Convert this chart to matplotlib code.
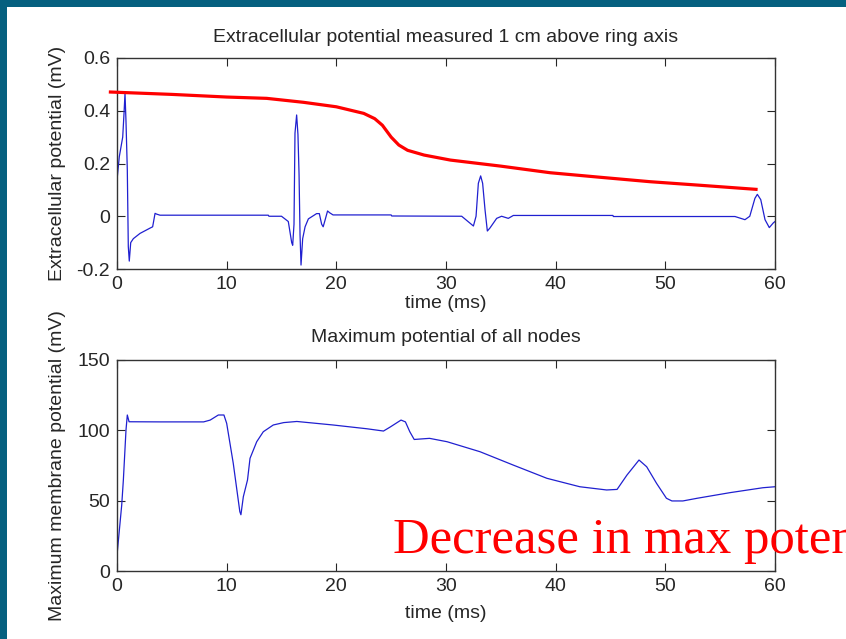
import numpy as np
import matplotlib.pyplot as plt
from matplotlib.patches import Rectangle

# --- data ---
# extracellular potential (mV) vs time (ms)
t_ext = [0.03, 0.21, 0.52, 0.64, 0.73, 0.82, 0.94, 1.03, 1.12, 1.25, 1.49, 2.1, 3.01, 3.25,
         3.47, 3.62, 3.92, 13.8, 13.85, 15.0, 15.62, 15.93, 16.02, 16.14, 16.23, 16.38, 16.5,
         16.6, 16.69, 16.78, 16.93, 17.15, 17.45, 18.2, 18.45, 18.66, 18.8, 18.97, 19.2, 19.4,
         19.7, 25.0, 25.05, 31.43, 32.5, 32.74, 32.95, 33.16, 33.34, 33.56, 33.77, 34.0, 34.62,
         35.07, 35.68, 36.14, 45.22, 45.26, 56.35, 57.26, 57.7, 58.17, 58.39, 58.7, 59.09,
         59.48, 59.85, 60.0]
v_ext = [0.15, 0.226, 0.30, 0.39, 0.466, 0.36, 0.175, -0.115, -0.17, -0.10, -0.085, -0.065,
         -0.045, -0.04, 0.011, 0.008, 0.004, 0.004, 0.0, 0.0, -0.02, -0.10, -0.11, -0.03, 0.315,
         0.384, 0.31, 0.16, -0.07, -0.185, -0.085, -0.04, -0.01, 0.01, 0.01, -0.03, -0.04,
         -0.015, 0.02, 0.013, 0.005, 0.005, 0.001, 0.0, -0.037, 0.0, 0.125, 0.153, 0.125, 0.024,
         -0.056, -0.045, -0.008, 0.0, -0.008, 0.003, 0.003, -0.001, -0.001, -0.013, 0.0, 0.068,
         0.083, 0.063, -0.013, -0.043, -0.025, -0.02]

# red envelope drawn over the top panel
t_env = [-0.6, 5, 10, 13.65, 17, 20, 21.2, 22.5, 23.5, 24.2, 25.0, 25.7, 26.5, 28, 30.4, 35,
         39.5, 44, 48.6, 53, 58.27]
v_env = [0.471, 0.462, 0.452, 0.447, 0.432, 0.415, 0.403, 0.39, 0.37, 0.345, 0.30, 0.27, 0.25,
         0.232, 0.213, 0.19, 0.165, 0.148, 0.131, 0.118, 0.102]

# maximum membrane potential (mV) vs time (ms)
t_max = [0.03, 0.43, 0.58, 0.82, 0.94, 1.1, 4.0, 7.9, 8.5, 9.24, 9.75, 10.0, 10.6, 11.2, 11.3,
         11.52, 11.9, 12.13, 12.74, 13.34, 14.25, 15.2, 16.4, 19.7, 22.8, 24.3, 24.9, 25.9,
         26.3, 26.7, 27.1, 27.6, 28.5, 30.1, 33.1, 36.1, 39.2, 42.2, 44.65, 45.6, 46.5, 47.6,
         48.3, 49.2, 50.1, 50.6, 51.6, 52.9, 55.9, 58.9, 60.0]
v_max = [13.7, 46.9, 64.7, 100.2, 110.9, 106.1, 106, 106, 107.3, 110.9, 110.9, 105, 76.6, 42.2,
         40, 52.8, 64.7, 80.1, 91.9, 99, 103.8, 105.5, 106.3, 103.8, 101.1, 99.5, 102.3, 107.3,
         106, 99, 93.5, 93.8, 94.3, 91.9, 84.8, 75.4, 65.9, 59.9, 57.6, 58, 68.2, 78.9, 74.1,
         62.3, 51.7, 49.8, 49.8, 51.7, 55.7, 59.2, 59.9]

x_ticks = [0, 10, 20, 30, 40, 50, 60]
ext_ticks = [-0.2, 0, 0.2, 0.4, 0.6]
ext_ticklabels = ['-0.2', '0', '0.2', '0.4', '0.6']
max_ticks = [0, 50, 100, 150]

plt.rcParams['font.family'] = ['Liberation Sans', 'DejaVu Sans']
txt_col = '#262626'
blue = '#2020d0'
fs = 14

fig = plt.figure(figsize=(8.46, 6.39), dpi=100, facecolor='#05607f')
# white slide area
fig.patches.append(Rectangle((7 / 846, 0), 1, 1 - 7 / 639, transform=fig.transFigure,
                             facecolor='white', edgecolor='none', zorder=-10))

ax1 = fig.add_axes([117 / 846, 1 - 269 / 639, 658 / 846, 211 / 639])
ax2 = fig.add_axes([117 / 846, 1 - 571 / 639, 658 / 846, 211 / 639])

ax1.plot(t_ext, v_ext, color=blue, lw=0.9)
ax1.plot(t_env, v_env, color='#ff0000', lw=2.3, clip_on=False, zorder=5)
ax1.set_xlim(0, 60)
ax1.set_ylim(-0.2, 0.6)
ax1.set_yticks(ext_ticks)
ax1.set_yticklabels(ext_ticklabels)

ax2.plot(t_max, v_max, color=blue, lw=0.9)
ax2.set_xlim(0, 60)
ax2.set_ylim(0, 150)
ax2.set_yticks(max_ticks)

for ax in (ax1, ax2):
    ax.set_facecolor('white')
    ax.set_xticks(x_ticks)
    ax.tick_params(direction='in', length=6, width=0.8, top=True, right=True,
                   labelsize=fs, colors=txt_col, pad=5)
    for s in ax.spines.values():
        s.set_color('#333333')
        s.set_linewidth(1.0)

ax1.text(0.5, 1 + 20 / 211, 'Extracellular potential measured 1 cm above ring axis',
         transform=ax1.transAxes, ha='center', va='center', fontsize=fs, color=txt_col)
ax1.set_xlabel('time (ms)', fontsize=fs, color=txt_col)
ax1.xaxis.set_label_coords(0.5, -34 / 211)
ax1.set_ylabel('Extracellular potential (mV)', fontsize=fs, color=txt_col)
ax1.yaxis.set_label_coords(-60 / 658, 0.5)
ax1.xaxis.label.set_va('center')
ax1.yaxis.label.set_va('center')

ax2.text(0.5, 1 + 22 / 211, 'Maximum potential of all nodes',
         transform=ax2.transAxes, ha='center', va='center', fontsize=fs, color=txt_col)
ax2.set_xlabel('time (ms)', fontsize=fs, color=txt_col)
ax2.xaxis.set_label_coords(0.5, -43 / 211)
ax2.set_ylabel('Maximum membrane potential (mV)', fontsize=fs, color=txt_col)
ax2.yaxis.set_label_coords(-60 / 658, 0.5)
ax2.xaxis.label.set_va('center')
ax2.yaxis.label.set_va('center')

fig.text(393 / 846, 1 - 553 / 639, 'Decrease in max potential', fontsize=36.5,
         family=['Liberation Serif', 'DejaVu Serif'], color='#ff0000', va='baseline',
         ha='left', zorder=10)

fig.savefig('out.png', dpi=100, facecolor=fig.get_facecolor())
